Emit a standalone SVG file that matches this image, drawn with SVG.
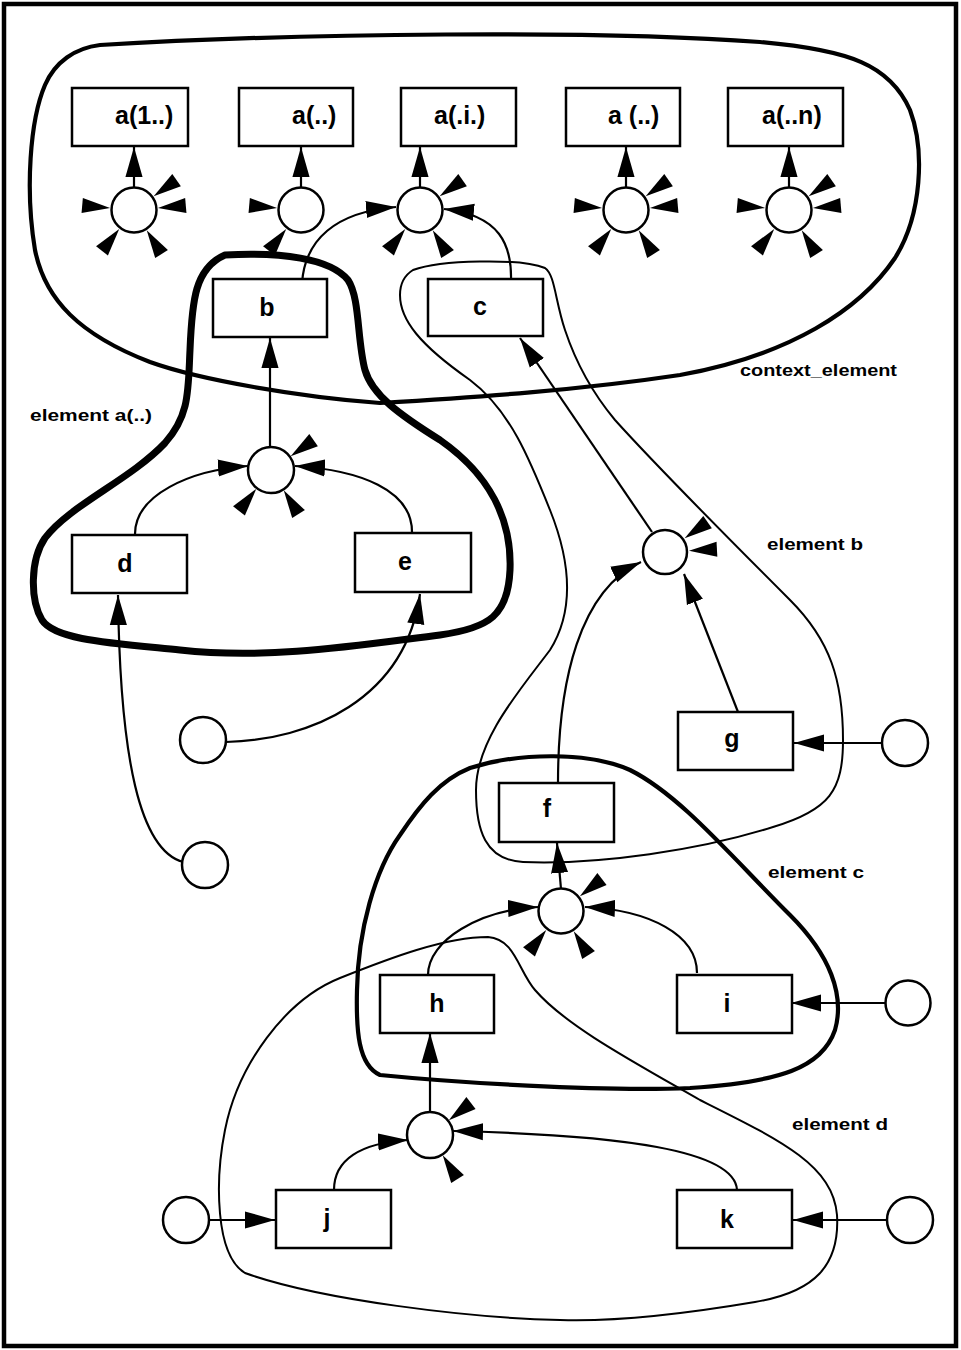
<svg xmlns="http://www.w3.org/2000/svg" xmlns:xlink="http://www.w3.org/1999/xlink" width="961" height="1350" viewBox="0 0 961 1350">
<style>
.bg{fill:#fff}
.frame{fill:none;stroke:#000;stroke-width:4.5}
.box{fill:#fff;stroke:#000;stroke-width:2.5}
.circ{fill:#fff;stroke:#000;stroke-width:2.5}
.lbl{font-family:"Liberation Sans",Arial,Helvetica,sans-serif;font-weight:bold;font-size:25px;fill:#000}
.mid{text-anchor:middle}
.el{font-family:"Liberation Sans",Arial,Helvetica,sans-serif;font-weight:bold;font-size:17px;fill:#000}
.conn path{fill:none;stroke:#000;stroke-width:2.2}
.blob{fill:none;stroke:#000;stroke-linejoin:round}
.thin{stroke-width:2}
.mediumb{stroke-width:4.2}
.thick{stroke-width:7}
</style>
<defs>
<marker id="arr" markerUnits="userSpaceOnUse" markerWidth="30" markerHeight="18" viewBox="0 0 28 16" refX="28" refY="8" orient="auto"><path d="M0,0 L28,8 L0,16 Z" fill="#000"/></marker>
<path id="stub" d="M24,0 L52,-7.5 L52,7.5 Z" fill="#000"/>
</defs>
<rect class="bg" x="0" y="0" width="961" height="1350"/>
<rect class="frame" x="4" y="4" width="952" height="1342"/>

<g id="blobs">
<path id="context_element" class="blob mediumb" d="M100,45 C300,33 600,30 760,42 C850,50 890,65 910,110 C925,150 922,215 895,258 C860,310 790,355 680,375 C580,390 480,397 380,403 C300,397 200,380 150,362 C80,335 45,300 35,250 C25,190 30,120 45,85 C55,62 75,48 100,45 Z"/>
<path id="element_a" class="blob thick" d="M225,255 C280,252 330,258 348,280 C360,298 357,340 365,370 C372,395 400,415 440,440 C490,475 512,520 510,570 C508,615 490,628 440,635 C360,645 270,660 180,650 C110,643 55,640 42,620 C30,600 30,560 45,538 C70,505 130,480 165,443 C190,415 188,390 190,350 C192,300 195,268 225,255 Z"/>
<path id="element_b" class="blob thin" d="M413,270 C440,260 520,258 545,268 C555,275 555,300 565,330 C575,360 590,390 615,420 C660,470 740,550 790,600 C830,640 843,680 843,740 C843,790 830,810 773,827 C700,850 600,865 523,862 C485,860 476,830 476,790 C476,740 520,690 550,650 C575,610 570,560 550,510 C530,460 510,410 470,380 C420,345 400,320 400,295 C400,282 405,275 413,270 Z"/>
<path id="element_c" class="blob mediumb" d="M470,768 C520,752 590,752 630,770 C680,795 730,855 790,915 C830,955 845,995 835,1030 C822,1068 780,1082 690,1088 C600,1092 450,1082 380,1075 C358,1065 356,1030 357,990 C358,930 375,870 400,835 C420,805 440,780 470,768 Z"/>
<path id="element_d" class="blob thin" d="M340,978 C390,958 445,937 488,937 C515,939 518,970 535,990 C565,1025 630,1060 700,1100 C780,1140 833,1165 837,1215 C840,1265 815,1292 755,1302 C690,1313 620,1322 560,1320 C470,1318 320,1300 245,1273 C215,1255 215,1180 225,1130 C238,1065 285,1000 340,978 Z"/>
<text class="el" x="740" y="376" textLength="157" lengthAdjust="spacingAndGlyphs">context_element</text>
<text class="el" x="30" y="421" textLength="122" lengthAdjust="spacingAndGlyphs">element  a(..)</text>
<text class="el" x="767" y="550" textLength="96" lengthAdjust="spacingAndGlyphs">element  b</text>
<text class="el" x="768" y="878" textLength="96" lengthAdjust="spacingAndGlyphs">element  c</text>
<text class="el" x="792" y="1130" textLength="96" lengthAdjust="spacingAndGlyphs">element  d</text>
</g>

<g id="connectors" class="conn">
<path d="M134,188 L134,147" marker-end="url(#arr)"/>
<path d="M301,188 L301,147" marker-end="url(#arr)"/>
<path d="M420,188 L420,147" marker-end="url(#arr)"/>
<path d="M626,188 L626,147" marker-end="url(#arr)"/>
<path d="M789,188 L789,147" marker-end="url(#arr)"/>
<path d="M302,283 C305,240 335,212 396,207" marker-end="url(#arr)"/>
<path d="M511,281 C512,245 500,215 444,209" marker-end="url(#arr)"/>
<path d="M270,447 L270,338" marker-end="url(#arr)"/>
<path d="M135,534 C135,495 190,470 248,466" marker-end="url(#arr)"/>
<path d="M412,532 C412,490 360,470 295,466" marker-end="url(#arr)"/>
<path d="M226,742 C310,740 405,700 420,594" marker-end="url(#arr)"/>
<path d="M183,862 C140,850 120,760 118,595" marker-end="url(#arr)"/>
<path d="M652,532 L520,338" marker-end="url(#arr)"/>
<path d="M558,783 C558,680 580,590 641,562" marker-end="url(#arr)"/>
<path d="M738,712 L684,574" marker-end="url(#arr)"/>
<path d="M883,743 L794,743" marker-end="url(#arr)"/>
<path d="M561,889 L557,843" marker-end="url(#arr)"/>
<path d="M428,975 C428,940 480,910 538,907" marker-end="url(#arr)"/>
<path d="M697,973 C697,935 650,910 585,907" marker-end="url(#arr)"/>
<path d="M886,1003 L791,1003" marker-end="url(#arr)"/>
<path d="M430,1112 L430,1033" marker-end="url(#arr)"/>
<path d="M334,1190 C334,1160 360,1143 408,1140" marker-end="url(#arr)"/>
<path d="M737,1190 C735,1150 620,1135 453,1131" marker-end="url(#arr)"/>
<path d="M209,1220 L275,1220" marker-end="url(#arr)"/>
<path d="M887,1220 L793,1220" marker-end="url(#arr)"/>
</g>

<g id="a1"><rect class="box" x="72" y="88" width="116" height="58"/><text class="lbl" x="115" y="124">a(1..)</text></g>
<g id="a2"><rect class="box" x="239" y="88" width="114" height="58"/><text class="lbl" x="292" y="124">a(..)</text></g>
<g id="a3"><rect class="box" x="401" y="88" width="115" height="58"/><text class="lbl" x="434" y="124">a(.i.)</text></g>
<g id="a4"><rect class="box" x="566" y="88" width="114" height="58"/><text class="lbl" x="608" y="124">a (..)</text></g>
<g id="a5"><rect class="box" x="728" y="88" width="115" height="58"/><text class="lbl" x="762" y="124">a(..n)</text></g>

<g id="j1"><circle class="circ" cx="134" cy="210" r="22.5"/>
<use xlink:href="#stub" href="#stub" transform="translate(134,210) rotate(185)"/>
<use xlink:href="#stub" href="#stub" transform="translate(134,210) rotate(-35)"/>
<use xlink:href="#stub" href="#stub" transform="translate(134,210) rotate(-5)"/>
<use xlink:href="#stub" href="#stub" transform="translate(134,210) rotate(128)"/>
<use xlink:href="#stub" href="#stub" transform="translate(134,210) rotate(58)"/></g>
<g id="j2"><circle class="circ" cx="301" cy="210" r="22.5"/>
<use xlink:href="#stub" href="#stub" transform="translate(301,210) rotate(185)"/>
<use xlink:href="#stub" href="#stub" transform="translate(301,210) rotate(128)"/></g>
<g id="j3"><circle class="circ" cx="420" cy="210" r="22.5"/>
<use xlink:href="#stub" href="#stub" transform="translate(420,210) rotate(-35)"/>
<use xlink:href="#stub" href="#stub" transform="translate(420,210) rotate(128)"/>
<use xlink:href="#stub" href="#stub" transform="translate(420,210) rotate(58)"/></g>
<g id="j4"><circle class="circ" cx="626" cy="210" r="22.5"/>
<use xlink:href="#stub" href="#stub" transform="translate(626,210) rotate(185)"/>
<use xlink:href="#stub" href="#stub" transform="translate(626,210) rotate(-35)"/>
<use xlink:href="#stub" href="#stub" transform="translate(626,210) rotate(-5)"/>
<use xlink:href="#stub" href="#stub" transform="translate(626,210) rotate(128)"/>
<use xlink:href="#stub" href="#stub" transform="translate(626,210) rotate(58)"/></g>
<g id="j5"><circle class="circ" cx="789" cy="210" r="22.5"/>
<use xlink:href="#stub" href="#stub" transform="translate(789,210) rotate(185)"/>
<use xlink:href="#stub" href="#stub" transform="translate(789,210) rotate(-35)"/>
<use xlink:href="#stub" href="#stub" transform="translate(789,210) rotate(-5)"/>
<use xlink:href="#stub" href="#stub" transform="translate(789,210) rotate(128)"/>
<use xlink:href="#stub" href="#stub" transform="translate(789,210) rotate(58)"/></g>

<g id="b"><rect class="box" x="213" y="279" width="114" height="58"/><text class="lbl mid" x="267" y="316">b</text></g>
<g id="c"><rect class="box" x="428" y="279" width="115" height="57"/><text class="lbl mid" x="480" y="315">c</text></g>

<g id="ja"><circle class="circ" cx="271" cy="470" r="23"/>
<use xlink:href="#stub" href="#stub" transform="translate(271,470) rotate(-35)"/>
<use xlink:href="#stub" href="#stub" transform="translate(271,470) rotate(128)"/>
<use xlink:href="#stub" href="#stub" transform="translate(271,470) rotate(58)"/></g>
<g id="d"><rect class="box" x="72" y="535" width="115" height="58"/><text class="lbl mid" x="125" y="572">d</text></g>
<g id="e"><rect class="box" x="355" y="533" width="116" height="59"/><text class="lbl mid" x="405" y="570">e</text></g>
<g id="in1"><circle class="circ" cx="203" cy="740" r="23"/></g>
<g id="in2"><circle class="circ" cx="205" cy="865" r="23"/></g>

<g id="jb"><circle class="circ" cx="665" cy="552" r="22"/>
<use xlink:href="#stub" href="#stub" transform="translate(665,552) rotate(-35)"/>
<use xlink:href="#stub" href="#stub" transform="translate(665,552) rotate(-3)"/></g>
<g id="g"><rect class="box" x="678" y="712" width="115" height="58"/><text class="lbl mid" x="732" y="747">g</text></g>
<g id="in3"><circle class="circ" cx="905" cy="743" r="23"/></g>
<g id="f"><rect class="box" x="499" y="783" width="115" height="59"/><text class="lbl mid" x="547" y="817">f</text></g>

<g id="jc"><circle class="circ" cx="561" cy="911" r="22.5"/>
<use xlink:href="#stub" href="#stub" transform="translate(561,911) rotate(-38)"/>
<use xlink:href="#stub" href="#stub" transform="translate(561,911) rotate(128)"/>
<use xlink:href="#stub" href="#stub" transform="translate(561,911) rotate(58)"/></g>
<g id="h"><rect class="box" x="380" y="975" width="114" height="58"/><text class="lbl mid" x="437" y="1012">h</text></g>
<g id="i"><rect class="box" x="677" y="975" width="115" height="58"/><text class="lbl mid" x="727" y="1012">i</text></g>
<g id="in4"><circle class="circ" cx="908" cy="1003" r="22.5"/></g>

<g id="jd"><circle class="circ" cx="430" cy="1135" r="23"/>
<use xlink:href="#stub" href="#stub" transform="translate(430,1135) rotate(-38)"/>
<use xlink:href="#stub" href="#stub" transform="translate(430,1135) rotate(58)"/></g>
<g id="j"><rect class="box" x="276" y="1190" width="115" height="58"/><text class="lbl mid" x="327" y="1227">j</text></g>
<g id="k"><rect class="box" x="677" y="1190" width="115" height="58"/><text class="lbl mid" x="727" y="1228">k</text></g>
<g id="in5"><circle class="circ" cx="186" cy="1220" r="23"/></g>
<g id="in6"><circle class="circ" cx="910" cy="1220" r="23"/></g>
</svg>
